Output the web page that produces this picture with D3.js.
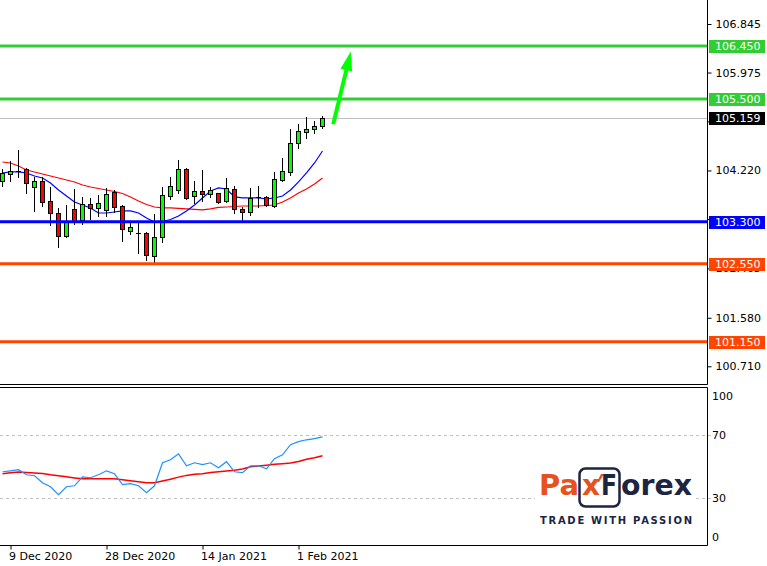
<!DOCTYPE html>
<html><head><meta charset="utf-8">
<script src="https://cdn.jsdelivr.net/npm/d3@7"></script>
<style>html,body{margin:0;padding:0;background:#fff;overflow:hidden}svg text{font-family:"DejaVu Sans",sans-serif}</style>
</head><body>
<svg id="c" width="767" height="566"></svg>
<script>
const dates = ["2020-12-08","2020-12-09","2020-12-10","2020-12-11","2020-12-14","2020-12-15","2020-12-16","2020-12-17","2020-12-18","2020-12-21","2020-12-22","2020-12-23","2020-12-24","2020-12-28","2020-12-29","2020-12-30","2020-12-31","2021-01-04","2021-01-05","2021-01-06","2021-01-07","2021-01-08","2021-01-11","2021-01-12","2021-01-13","2021-01-14","2021-01-15","2021-01-18","2021-01-19","2021-01-20","2021-01-21","2021-01-22","2021-01-25","2021-01-26","2021-01-27","2021-01-28","2021-01-29","2021-02-01","2021-02-02","2021-02-03","2021-02-04"];
const opens = [104.032,104.157,104.211,104.247,103.924,104.032,103.673,103.458,103.046,103.530,103.332,103.619,103.548,103.512,103.834,103.583,103.135,103.099,103.099,102.687,103.028,103.763,103.870,104.247,103.763,103.852,103.799,103.817,103.673,103.888,103.530,103.476,103.736,103.745,103.583,104.049,104.193,104.712,104.910,104.963,105.017];
const highs = [104.247,104.390,104.587,104.264,104.103,104.103,103.924,103.548,103.601,103.888,103.745,103.727,103.781,103.906,103.870,103.601,103.279,103.279,103.117,103.440,103.924,104.103,104.408,104.264,104.032,104.229,103.924,103.817,104.085,103.942,103.565,103.906,103.942,103.763,104.193,104.444,104.963,105.053,105.178,105.107,105.196];
const lows = [103.942,104.032,104.103,103.817,103.494,103.583,103.243,102.849,103.028,103.261,103.261,103.350,103.404,103.404,103.476,102.956,103.082,102.741,102.616,102.580,102.938,103.709,103.817,103.709,103.637,103.673,103.745,103.637,103.655,103.458,103.332,103.422,103.565,103.583,103.565,104.032,104.139,104.623,104.802,104.892,104.981];
const closes = [104.175,104.211,104.211,103.996,104.032,103.655,103.458,103.046,103.297,103.315,103.619,103.548,103.637,103.799,103.565,103.171,103.207,103.099,102.705,103.028,103.781,103.942,104.247,103.727,103.852,103.799,103.870,103.655,103.906,103.530,103.476,103.727,103.736,103.601,104.067,104.211,104.712,104.927,104.963,105.017,105.159];
const maFast = [104.175,104.193,104.193,104.175,104.121,104.085,103.996,103.870,103.763,103.655,103.601,103.548,103.458,103.458,103.476,103.494,103.494,103.458,103.368,103.297,103.306,103.341,103.404,103.494,103.601,103.727,103.852,103.906,103.888,103.745,103.727,103.727,103.727,103.709,103.727,103.763,103.870,104.014,104.175,104.354,104.569];
const maSlow = [104.372,104.354,104.300,104.229,104.193,104.157,104.121,104.085,104.049,104.014,103.960,103.924,103.897,103.870,103.843,103.808,103.745,103.673,103.610,103.565,103.548,103.548,103.539,103.530,103.521,103.512,103.530,103.557,103.565,103.574,103.583,103.583,103.583,103.592,103.601,103.655,103.727,103.817,103.888,103.978,104.085];
const rsiMain = [46.5,47.1,47.8,44.6,44.0,39.5,37.0,31.9,37.0,37.6,43.3,42.7,44.6,47.1,45.2,38.3,38.9,37.6,33.2,37.6,52.2,54.1,57.9,50.3,52.2,51.0,52.2,49.0,52.9,46.5,45.9,50.3,50.3,48.4,54.8,57.3,63.7,65.6,66.8,67.5,68.7];
const rsiSignal = [45.3,45.9,46.4,46.1,45.7,45.4,44.6,44.0,43.3,42.6,42.0,42.0,42.0,42.0,42.0,41.5,40.8,40.2,39.5,39.5,40.6,41.8,43.1,44.2,44.9,45.2,46.0,46.5,47.0,47.5,48.3,49.7,50.1,50.7,51.2,51.6,52.0,53.0,54.5,55.4,56.7];
const priceTicks = [106.845,105.975,105.100,104.220,103.350,102.465,101.580,100.710];
const hiddenTicks = [105.100,103.350];
const xTickDates = ["2020-12-09","2020-12-28","2021-01-14","2021-02-01"];
const xTickLabels = ["9 Dec 2020","28 Dec 2020","14 Jan 2021","1 Feb 2021"];
const levelValues = [106.45,105.5,103.3,102.55,101.15];
const levelColors = ["#32CD32","#32CD32","#0000FF","#FF4500","#FF4500"];
const lastPrice = 105.159;
const rsiTicks = [100,70,30,0];
const rsiLevels = [70,30];
const arrowFrom = {bar:41.4, price:105.05};
const arrowTo = {bar:43.6, price:106.35};

const svg = d3.select("#c");
const AX = 707;
const x = d3.scaleLinear().domain([0, dates.length-1]).range([2, 2+8*(dates.length-1)]);
const y = d3.scaleLinear().domain([100.393, 107.275]).range([384, 0]);
const yr = d3.scaleLinear().domain([0,100]).range([545, 387.5]);

svg.append("rect").attr("width",767).attr("height",566).attr("fill","#fff");

// ---- RSI panel ----
svg.selectAll(".rl").data(rsiLevels).enter().append("line")
  .attr("x1",0).attr("x2",AX+4).attr("y1",d=>Math.round(yr(d))+0.5).attr("y2",d=>Math.round(yr(d))+0.5)
  .attr("stroke","#c0c0c0").attr("stroke-dasharray","3,3");

// logo
const logo = svg.append("g");
logo.append("rect").attr("x",535).attr("y",462).attr("width",160).attr("height",66).attr("fill","#fff");
logo.append("rect").attr("x",579.5).attr("y",468.5).attr("width",40).attr("height",38).attr("rx",6)
  .attr("fill","none").attr("stroke","#1C2541").attr("stroke-width",2.5);
logo.append("text").attr("x",539).attr("y",495).attr("font-family","'Open Sans',sans-serif").attr("font-weight",700)
  .attr("font-size",29).attr("fill","#E8511D").attr("textLength",40).attr("lengthAdjust","spacingAndGlyphs").text("Pa");
logo.append("text").attr("x",582).attr("y",495).attr("font-family","'Open Sans',sans-serif").attr("font-weight",700)
  .attr("font-size",29).attr("fill","#E8511D").attr("textLength",18).attr("lengthAdjust","spacingAndGlyphs").text("x");
logo.append("path").attr("d","M601,474 L604,474 L599,482 L597,482 Z").attr("fill","#E8511D");
logo.append("text").attr("x",601).attr("y",495).attr("font-family","'Open Sans',sans-serif").attr("font-weight",700)
  .attr("font-size",29).attr("fill","#1C2541").attr("textLength",16).attr("lengthAdjust","spacingAndGlyphs").text("F");
logo.append("text").attr("x",621).attr("y",495).attr("font-family","'Open Sans',sans-serif").attr("font-weight",700)
  .attr("font-size",29).attr("fill","#1C2541").attr("textLength",71).attr("lengthAdjust","spacingAndGlyphs").text("orex");
logo.append("text").attr("x",540).attr("y",524).attr("font-family","'Open Sans',sans-serif").attr("font-weight",700)
  .attr("font-size",10).attr("fill","#1C2541").attr("textLength",152).attr("lengthAdjust","spacing").text("TRADE WITH PASSION");

const rline = d3.line().x((d,i)=>x(i)+0.5).y(d=>yr(d));
svg.append("path").datum(rsiSignal).attr("d",rline).attr("fill","none").attr("stroke","#FF0000").attr("stroke-width",1.5);
svg.append("path").datum(rsiMain).attr("d",rline).attr("fill","none").attr("stroke","#1E90FF").attr("stroke-width",1.2);

// RSI axis labels
svg.selectAll(".rt").data(rsiTicks).enter().append("text")
  .attr("x",712).attr("y",d=>yr(d) + (d===100?8.5:(d===0?-8:0)))
  .attr("dy","0.35em").attr("font-size",11).attr("fill","#000").text(d=>d);

// frames
svg.append("line").attr("x1",0).attr("x2",AX+0.5).attr("y1",384.5).attr("y2",384.5).attr("stroke","#000");
svg.append("line").attr("x1",0).attr("x2",AX+0.5).attr("y1",387.5).attr("y2",387.5).attr("stroke","#000");
svg.append("line").attr("x1",AX+0.5).attr("x2",AX+0.5).attr("y1",0).attr("y2",384.5).attr("stroke","#000");
svg.append("line").attr("x1",AX+0.5).attr("x2",AX+0.5).attr("y1",387.5).attr("y2",545.5).attr("stroke","#000");

// x axis
const xAxis = d3.axisBottom(x).tickValues(xTickDates.map(d=>dates.indexOf(d)))
  .tickFormat((d,i)=>xTickLabels[i]).tickSize(4).tickSizeOuter(0).tickPadding(3);
const gx = svg.append("g").attr("transform","translate(0.5,545.5)").call(xAxis);
gx.select(".domain").attr("d","M-0.5,0H"+AX);
gx.selectAll("text").attr("text-anchor","start").attr("dx",-2).attr("font-size",11).attr("font-family","DejaVu Sans").attr("fill","#000");
gx.selectAll("line").attr("stroke","#000");

// price axis (labels hidden under the level tags are left as tick marks only)
const fmt = d3.format(".3f");
const yAxis = d3.axisRight(y).tickValues(priceTicks).tickFormat(d=>hiddenTicks.includes(d)?"":fmt(d)).tickSize(4).tickSizeOuter(0).tickPadding(4);
const gy = svg.append("g").attr("transform","translate("+(AX+0.5)+",0)").call(yAxis);
gy.select(".domain").remove();
gy.selectAll("text").attr("font-size",11).attr("font-family","DejaVu Sans").attr("fill","#000");

// ---- main panel ----
svg.append("line").attr("x1",0).attr("x2",AX).attr("y1",Math.round(y(lastPrice))+0.5).attr("y2",Math.round(y(lastPrice))+0.5)
  .attr("stroke","#c0c0c0");

const mline = d3.line().x((d,i)=>x(i)+0.5).y(d=>y(d));
svg.append("path").datum(maSlow).attr("d",mline).attr("fill","none").attr("stroke","#FF0000").attr("stroke-width",1.2);
svg.append("path").datum(maFast).attr("d",mline).attr("fill","none").attr("stroke","#0000FF").attr("stroke-width",1.2);

const candles = dates.map((d,i)=>({i,o:opens[i],h:highs[i],l:lows[i],c:closes[i]}));
const cg = svg.append("g");
cg.selectAll(".w").data(candles).enter().append("line")
  .attr("x1",d=>x(d.i)+0.5).attr("x2",d=>x(d.i)+0.5)
  .attr("y1",d=>Math.round(y(d.h))).attr("y2",d=>Math.round(y(d.l))+1).attr("stroke","#000");
cg.selectAll(".b").data(candles.filter(d=>d.o!==d.c)).enter().append("rect")
  .attr("x",d=>x(d.i)-1.5).attr("width",4)
  .attr("y",d=>Math.round(y(Math.max(d.o,d.c)))+0.5)
  .attr("height",d=>Math.max(1,Math.round(y(Math.min(d.o,d.c)))-Math.round(y(Math.max(d.o,d.c)))))
  .attr("fill",d=>d.c>d.o?"#00FF00":"#FF0000").attr("stroke","#000");
cg.selectAll(".dj").data(candles.filter(d=>d.o===d.c)).enter().append("line")
  .attr("x1",d=>x(d.i)-2).attr("x2",d=>x(d.i)+3)
  .attr("y1",d=>Math.round(y(d.o))+0.5).attr("y2",d=>Math.round(y(d.o))+0.5).attr("stroke","#000");

// level lines
svg.selectAll(".lv").data(levelValues).enter().append("line")
  .attr("x1",0).attr("x2",AX).attr("y1",d=>y(d)).attr("y2",d=>y(d))
  .attr("stroke",(d,i)=>levelColors[i]).attr("stroke-width",3);

// arrow
const ax0 = x(arrowFrom.bar), ay0 = y(arrowFrom.price), ax1 = x(arrowTo.bar), ay1 = y(arrowTo.price);
const len = Math.hypot(ax1-ax0, ay1-ay0), ux=(ax1-ax0)/len, uy=(ay1-ay0)/len;
const bx = ax1-19*ux, by = ay1-19*uy;
svg.append("line").attr("x1",ax0).attr("y1",ay0).attr("x2",bx+2*ux).attr("y2",by+2*uy)
  .attr("stroke","#00FF00").attr("stroke-width",4);
svg.append("path").attr("d",`M${ax1},${ay1}L${bx-6*uy},${by+6*ux}L${bx+6*uy},${by-6*ux}Z`).attr("fill","#00FF00");

// price labels
const labs = levelValues.map((v,i)=>({v,col:levelColors[i]})).concat([{v:lastPrice,col:"#000"}]);
const lg = svg.selectAll(".pl").data(labs).enter().append("g");
lg.append("rect").attr("x",709).attr("y",d=>Math.round(y(d.v))-6).attr("width",56).attr("height",13).attr("fill",d=>d.col);
lg.append("text").attr("x",715).attr("y",d=>Math.round(y(d.v))+0.5).attr("dy","0.36em").attr("font-size",11)
  .attr("fill","#fff").text(d=>fmt(d.v));
</script>
</body></html>
